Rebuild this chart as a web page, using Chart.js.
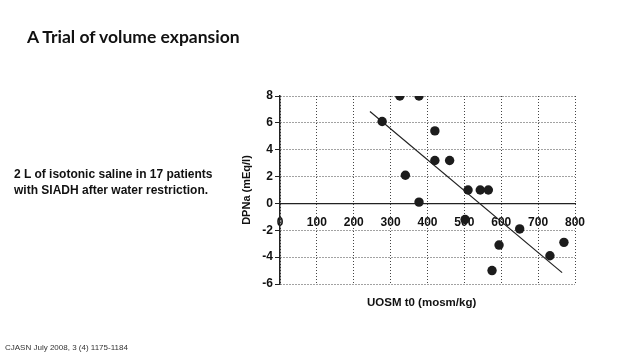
<!DOCTYPE html>
<html>
<head>
<meta charset="utf-8">
<script src="https://cdn.jsdelivr.net/npm/chart.js@4.4.1/dist/chart.umd.min.js"></script>
<style>
body{margin:0;width:640px;height:360px;background:#fff;position:relative;overflow:hidden;font-family:'Liberation Sans',Arial,sans-serif;}
#chart{position:absolute;left:0;top:0;}
.txt{position:absolute;white-space:nowrap;color:#111;}
#title{left:27px;top:26px;font:bold 17.5px Lato,sans-serif;}
#desc{left:14px;top:166px;font:bold 12px 'Liberation Sans',Arial;line-height:16px;}
#xtitle{left:367px;top:296px;font:bold 11.5px 'Liberation Sans',Arial;}
#cite{left:5px;top:343px;font:8px 'Liberation Sans',Arial;color:#333;}
</style>
</head>
<body>
<canvas id="chart" width="640" height="360"></canvas>
<div class="txt" id="title">A Trial of volume expansion</div>
<div class="txt" id="desc">2 L of isotonic saline in 17 patients<br>with SIADH after water restriction.</div>
<div class="txt" id="xtitle">UOSM t0 (mosm/kg)</div>
<div class="txt" id="cite">CJASN July 2008, 3 (4) 1175-1184</div>
<script>
'use strict';
// urine osmolality at t0 and change in plasma Na
const uosm = [277, 325, 377, 340, 377, 420, 420, 460, 510, 543, 565, 502, 650, 594, 575, 732, 770];
const dpna = [6.1, 8, 8, 2.1, 0.1, 5.4, 3.2, 3.2, 1.0, 1.0, 1.0, -1.2, -1.9, -3.1, -5.0, -3.9, -2.9];
// regression line ends
const fitX = [244, 765];
const fitY = [6.85, -5.15];
const xMin = 0, xMax = 800, xStep = 100;
const yMin = -6, yMax = 8, yStep = 2;

const points = [];
for (let i = 0; i < uosm.length; i++) {
  points.push({x: uosm[i], y: dpna[i]});
}
const fit = [];
for (let i = 0; i < fitX.length; i++) {
  fit.push({x: fitX[i], y: fitY[i]});
}

const ctx = document.getElementById('chart').getContext('2d');
new Chart(ctx, {
  type: 'scatter',
  data: {
    datasets: [
      {
        data: points,
        backgroundColor: '#1c1c1c',
        borderWidth: 0,
        pointRadius: 4.7,
        pointHoverRadius: 4.7
      },
      {
        data: fit,
        showLine: true,
        borderColor: '#222',
        borderWidth: 1.2,
        pointRadius: 0
      }
    ]
  },
  options: {
    responsive: false,
    animation: false,
    events: [],
    layout: {padding: {left: 237, right: 65, top: 96, bottom: 76}},
    plugins: {legend: {display: false}, tooltip: {enabled: false}},
    scales: {
      x: {
        type: 'linear',
        min: xMin,
        max: xMax,
        position: {y: 0},
        ticks: {stepSize: xStep, color: '#111', padding: 12, font: {family: 'Liberation Sans', size: 12, weight: 'bold'}, maxRotation: 0},
        grid: {color: '#444', lineWidth: 1, drawTicks: false},
        border: {display: true, color: '#222', width: 1.2, dash: [1, 2]}
      },
      y: {
        min: yMin,
        max: yMax,
        ticks: {stepSize: yStep, color: '#111', padding: 2, font: {family: 'Liberation Sans', size: 12, weight: 'bold'}},
        grid: {color: '#444', lineWidth: 1, drawTicks: true, tickLength: 5, tickColor: '#222'},
        border: {display: true, color: '#222', width: 1.5, dash: [1, 2]},
        title: {display: true, text: 'DPNa (mEq/l)', color: '#111', padding: {top: 3, bottom: 2}, font: {family: 'Liberation Sans', size: 11, weight: 'bold'}},
        afterFit: function(scale) { scale.width = 43; }
      }
    }
  }
});
</script>
</body>
</html>
